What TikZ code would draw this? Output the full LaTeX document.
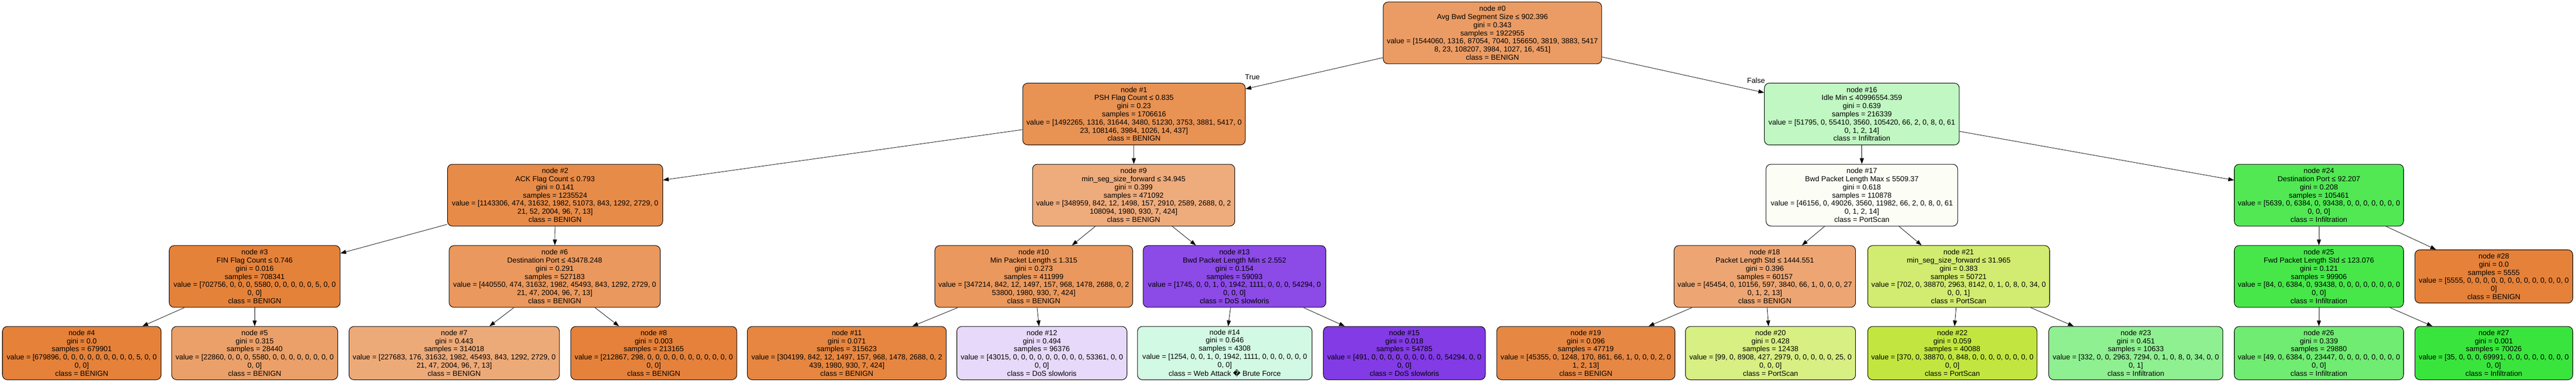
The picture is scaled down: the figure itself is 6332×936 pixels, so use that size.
\documentclass[tikz,border=0pt]{standalone}
\usepackage{fontspec}
\setmainfont{Liberation Sans}
\newfontfamily\repfont{DejaVu Sans}
\usepackage{tikz}
\usetikzlibrary{arrows.meta}

\definecolor{c0}{RGB}{235,156,100}
\definecolor{c1}{RGB}{232,146,83}
\definecolor{c2}{RGB}{231,139,72}
\definecolor{c3}{RGB}{229,130,58}
\definecolor{c4}{RGB}{229,129,57}
\definecolor{c5}{RGB}{235,160,105}
\definecolor{c6}{RGB}{234,152,93}
\definecolor{c7}{RGB}{237,170,121}
\definecolor{c8}{RGB}{229,129,58}
\definecolor{c9}{RGB}{238,171,124}
\definecolor{c10}{RGB}{234,152,93}
\definecolor{c11}{RGB}{230,134,64}
\definecolor{c12}{RGB}{231,217,250}
\definecolor{c13}{RGB}{140,74,231}
\definecolor{c14}{RGB}{210,249,227}
\definecolor{c15}{RGB}{130,59,229}
\definecolor{c16}{RGB}{193,247,194}
\definecolor{c17}{RGB}{252,254,246}
\definecolor{c18}{RGB}{237,166,115}
\definecolor{c19}{RGB}{230,135,67}
\definecolor{c20}{RGB}{215,239,131}
\definecolor{c21}{RGB}{209,236,112}
\definecolor{c22}{RGB}{194,230,63}
\definecolor{c23}{RGB}{143,240,145}
\definecolor{c24}{RGB}{81,232,84}
\definecolor{c25}{RGB}{71,231,74}
\definecolor{c26}{RGB}{111,236,113}
\definecolor{c27}{RGB}{57,229,60}
\definecolor{c28}{RGB}{229,129,57}

\begin{document}
\begin{tikzpicture}[->,>={Triangle[length=7pt,width=5pt]},x=0.5pt,y=-0.5pt,
  line width=0.5pt,
  tree node/.style={rectangle,draw,rounded corners=6pt,line width=0.65pt,
    align=center,inner sep=0pt,minimum height=76pt,
    font=\fontsize{9}{10}\selectfont},
  leaf node/.style={tree node,minimum height=65.5pt}]
  \useasboundingbox (0,0) rectangle (6332,936);
  % depth 0 and 1
  \node[tree node,fill=c0,minimum width=268.5pt] (n0) at (3668.5,81) {node \#0\\Avg Bwd Segment Size ≤ 902.396\\gini = 0.343\\samples = 1922955\\value = [1544060, 1316, 87054, 7040, 156650, 3819, 3883, 5417\\8, 23, 108207, 3984, 1027, 16, 451]\\class = BENIGN};
  \node[tree node,fill=c1,minimum width=273.5pt] (n1) at (2787.5,280.5) {node \#1\\PSH Flag Count ≤ 0.835\\gini = 0.23\\samples = 1706616\\value = [1492265, 1316, 31644, 3480, 51230, 3753, 3881, 5417, 0\\23, 108146, 3984, 1026, 14, 437]\\class = BENIGN};
  \node[tree node,fill=c16,minimum width=239.5pt] (n16) at (4576.5,280.5) {node \#16\\Idle Min ≤ 40996554.359\\gini = 0.639\\samples = 216339\\value = [51795, 0, 55410, 3560, 105420, 66, 2, 0, 8, 0, 61\\0, 1, 2, 14]\\class = Infiltration};
  % depth 2
  \node[tree node,fill=c2,minimum width=264.5pt] (n2) at (1364.5,480) {node \#2\\ACK Flag Count ≤ 0.793\\gini = 0.141\\samples = 1235524\\value = [1143306, 474, 31632, 1982, 51073, 843, 1292, 2729, 0\\21, 52, 2004, 96, 7, 13]\\class = BENIGN};
  \node[tree node,fill=c9,minimum width=248.5pt] (n9) at (2786.5,480) {node \#9\\min\_seg\_size\_forward ≤ 34.945\\gini = 0.399\\samples = 471092\\value = [348959, 842, 12, 1498, 157, 2910, 2589, 2688, 0, 2\\108094, 1980, 930, 7, 424]\\class = BENIGN};
  \node[tree node,fill=c17,minimum width=235.5pt] (n17) at (4576.5,480) {node \#17\\Bwd Packet Length Max ≤ 5509.37\\gini = 0.618\\samples = 110878\\value = [46156, 0, 49026, 3560, 11982, 66, 2, 0, 8, 0, 61\\0, 1, 2, 14]\\class = PortScan};
  \node[tree node,fill=c24,minimum width=208pt] (n24) at (5700,480) {node \#24\\Destination Port ≤ 92.207\\gini = 0.208\\samples = 105461\\value = [5639, 0, 6384, 0, 93438, 0, 0, 0, 0, 0, 0, 0\\0, 0, 0]\\class = Infiltration};
  % depth 3
  \node[tree node,fill=c3,minimum width=210pt] (n3) at (626,680) {node \#3\\FIN Flag Count ≤ 0.746\\gini = 0.016\\samples = 708341\\value = [702756, 0, 0, 0, 5580, 0, 0, 0, 0, 0, 5, 0, 0\\0, 0]\\class = BENIGN};
  \node[tree node,fill=c6,minimum width=259.5pt] (n6) at (1363.5,680) {node \#6\\Destination Port ≤ 43478.248\\gini = 0.291\\samples = 527183\\value = [440550, 474, 31632, 1982, 45493, 843, 1292, 2729, 0\\21, 47, 2004, 96, 7, 13]\\class = BENIGN};
  \node[tree node,fill=c10,minimum width=243pt] (n10) at (2541,680) {node \#10\\Min Packet Length ≤ 1.315\\gini = 0.273\\samples = 411999\\value = [347214, 842, 12, 1497, 157, 968, 1478, 2688, 0, 2\\53800, 1980, 930, 7, 424]\\class = BENIGN};
  \node[tree node,fill=c13,minimum width=224.5pt] (n13) at (3034.5,680) {node \#13\\Bwd Packet Length Min ≤ 2.552\\gini = 0.154\\samples = 59093\\value = [1745, 0, 0, 1, 0, 1942, 1111, 0, 0, 0, 54294, 0\\0, 0, 0]\\class = DoS slowloris};
  \node[tree node,fill=c18,minimum width=223pt] (n18) at (4338,680) {node \#18\\Packet Length Std ≤ 1444.551\\gini = 0.396\\samples = 60157\\value = [45454, 0, 10156, 597, 3840, 66, 1, 0, 0, 0, 27\\0, 1, 2, 13]\\class = BENIGN};
  \node[tree node,fill=c21,minimum width=223.5pt] (n21) at (4814.5,680) {node \#21\\min\_seg\_size\_forward ≤ 31.965\\gini = 0.383\\samples = 50721\\value = [702, 0, 38870, 2963, 8142, 0, 1, 0, 8, 0, 34, 0\\0, 0, 1]\\class = PortScan};
  \node[tree node,fill=c25,minimum width=208pt] (n25) at (5700,680) {node \#25\\Fwd Packet Length Std ≤ 123.076\\gini = 0.121\\samples = 99906\\value = [84, 0, 6384, 0, 93438, 0, 0, 0, 0, 0, 0, 0, 0\\0, 0]\\class = Infiltration};
  \node[leaf node,fill=c28,minimum width=194pt] (n28) at (6130,680) {node \#28\\gini = 0.0\\samples = 5555\\value = [5555, 0, 0, 0, 0, 0, 0, 0, 0, 0, 0, 0, 0, 0\\0]\\class = BENIGN};
  % depth 4
  \node[leaf node,fill=c4,minimum width=195pt] (n4) at (201,868.5) {node \#4\\gini = 0.0\\samples = 679901\\value = [679896, 0, 0, 0, 0, 0, 0, 0, 0, 0, 5, 0, 0\\0, 0]\\class = BENIGN};
  \node[leaf node,fill=c5,minimum width=204pt] (n5) at (626,868.5) {node \#5\\gini = 0.315\\samples = 28440\\value = [22860, 0, 0, 0, 5580, 0, 0, 0, 0, 0, 0, 0, 0\\0, 0]\\class = BENIGN};
  \node[leaf node,fill=c7,minimum width=258.5pt] (n7) at (1116.5,868.5) {node \#7\\gini = 0.443\\samples = 314018\\value = [227683, 176, 31632, 1982, 45493, 843, 1292, 2729, 0\\21, 47, 2004, 96, 7, 13]\\class = BENIGN};
  \node[leaf node,fill=c8,minimum width=204pt] (n8) at (1607,868.5) {node \#8\\gini = 0.003\\samples = 213165\\value = [212867, 298, 0, 0, 0, 0, 0, 0, 0, 0, 0, 0, 0\\0, 0]\\class = BENIGN};
  \node[leaf node,fill=c11,minimum width=244.5pt] (n11) at (2081.5,868.5) {node \#11\\gini = 0.071\\samples = 315623\\value = [304199, 842, 12, 1497, 157, 968, 1478, 2688, 0, 2\\439, 1980, 930, 7, 424]\\class = BENIGN};
  \node[leaf node,fill=c12,minimum width=209pt] (n12) at (2561,868.5) {node \#12\\gini = 0.494\\samples = 96376\\value = [43015, 0, 0, 0, 0, 0, 0, 0, 0, 0, 53361, 0, 0\\0, 0]\\class = DoS slowloris};
  \node[leaf node,fill=c14,minimum width=214.5pt] (n14) at (3010.5,868.5) {node \#14\\gini = 0.646\\samples = 4308\\value = [1254, 0, 0, 1, 0, 1942, 1111, 0, 0, 0, 0, 0, 0\\0, 0]\\class = Web Attack {\repfont �} Brute Force};
  \node[leaf node,fill=c15,minimum width=199pt] (n15) at (3452,868.5) {node \#15\\gini = 0.018\\samples = 54785\\value = [491, 0, 0, 0, 0, 0, 0, 0, 0, 0, 54294, 0, 0\\0, 0]\\class = DoS slowloris};
  \node[leaf node,fill=c19,minimum width=219pt] (n19) at (3898,868.5) {node \#19\\gini = 0.096\\samples = 47719\\value = [45355, 0, 1248, 170, 861, 66, 1, 0, 0, 0, 2, 0\\1, 2, 13]\\class = BENIGN};
  \node[leaf node,fill=c20,minimum width=209pt] (n20) at (4352,868.5) {node \#20\\gini = 0.428\\samples = 12438\\value = [99, 0, 8908, 427, 2979, 0, 0, 0, 0, 0, 25, 0\\0, 0, 0]\\class = PortScan};
  \node[leaf node,fill=c22,minimum width=208pt] (n22) at (4799,868.5) {node \#22\\gini = 0.059\\samples = 40088\\value = [370, 0, 38870, 0, 848, 0, 0, 0, 0, 0, 0, 0, 0\\0, 0]\\class = PortScan};
  \node[leaf node,fill=c23,minimum width=214pt] (n23) at (5250,868.5) {node \#23\\gini = 0.451\\samples = 10633\\value = [332, 0, 0, 2963, 7294, 0, 1, 0, 8, 0, 34, 0, 0\\0, 1]\\class = Infiltration};
  \node[leaf node,fill=c26,minimum width=208pt] (n26) at (5700,868.5) {node \#26\\gini = 0.339\\samples = 29880\\value = [49, 0, 6384, 0, 23447, 0, 0, 0, 0, 0, 0, 0, 0\\0, 0]\\class = Infiltration};
  \node[leaf node,fill=c27,minimum width=194pt] (n27) at (6130,868.5) {node \#27\\gini = 0.001\\samples = 70026\\value = [35, 0, 0, 0, 69991, 0, 0, 0, 0, 0, 0, 0, 0\\0, 0]\\class = Infiltration};
  \path[every node/.style={font=\fontsize{9}{10}\selectfont}]
    (n0) edge node[pos=0.95,above=6pt] (ltrue) {True} (n1)
    (n0) edge node[pos=0.95,above=6pt] (lfalse) {False} (n16)
    (n1) edge (n2)
    (n1) edge (n9)
    (n2) edge (n3)
    (n2) edge (n6)
    (n3) edge (n4)
    (n3) edge (n5)
    (n6) edge (n7)
    (n6) edge (n8)
    (n9) edge (n10)
    (n9) edge (n13)
    (n10) edge (n11)
    (n10) edge (n12)
    (n13) edge (n14)
    (n13) edge (n15)
    (n16) edge (n17)
    (n16) edge (n24)
    (n17) edge (n18)
    (n17) edge (n21)
    (n18) edge (n19)
    (n18) edge (n20)
    (n21) edge (n22)
    (n21) edge (n23)
    (n24) edge (n25)
    (n24) edge (n28)
    (n25) edge (n26)
    (n25) edge (n27)
;
\end{tikzpicture}
\end{document}
